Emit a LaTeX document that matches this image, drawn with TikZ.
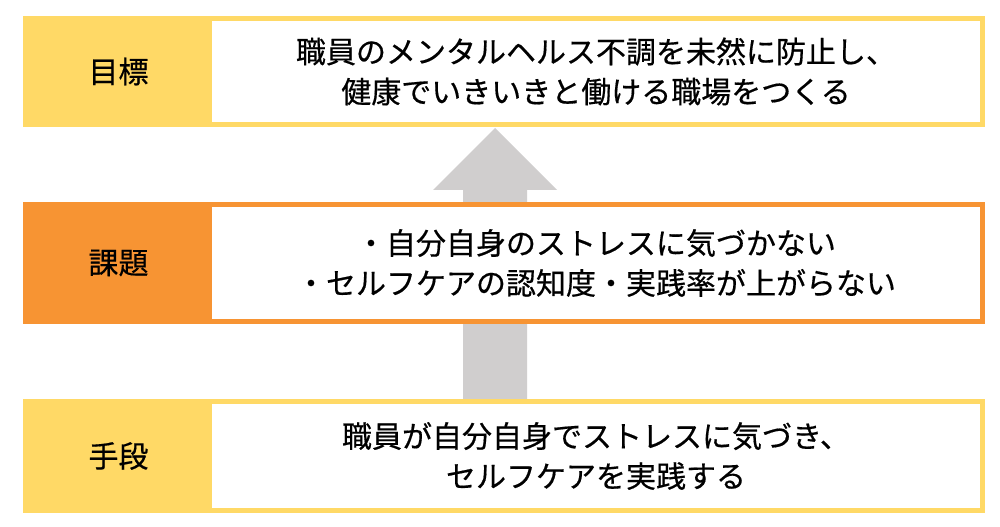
\documentclass[tikz,border=0pt]{standalone}
\usepackage{fontspec}
\newfontfamily\jp[FakeBold=0.5]{Noto Sans CJK JP}
\usetikzlibrary{calc}
\definecolor{ylw}{HTML}{FFD966}
\definecolor{org}{HTML}{F79433}
\definecolor{arrgray}{HTML}{D0CECE}
\begin{document}
\begin{tikzpicture}[x=0.75pt,y=-0.75pt,
  txt/.style={font=\jp\fontsize{22.5}{30}\selectfont, text=black, align=center},
  labelbox/.style={txt, rectangle, inner sep=0pt, minimum width=143.25pt},
  contentbox/.style={txt, rectangle, inner sep=0pt, minimum width=579.75pt, fill=white, line width=3.75pt},
  uparrow/.style={fill=arrgray}]
\fill[white] (0,0) rectangle (1000,527);
\useasboundingbox (0,0) rectangle (1000,527);
% arrow (behind boxes)
\coordinate (arrB) at (495,399);
\coordinate (arrT) at (495,128);
\fill[uparrow] ($(arrB)+(-32,0)$) -- ($(arrT)+(-32,62)$) -- ($(arrT)+(-62,62)$) -- (arrT)
  -- ($(arrT)+(62,62)$) -- ($(arrT)+(32,62)$) -- ($(arrB)+(32,0)$) -- cycle;
% goal row
\node[labelbox, fill=ylw, minimum height=83.25pt] (goalL) at (118.5,71.5) {目標};
\node[contentbox, draw=ylw, minimum height=79.5pt] (goal) at (596,71.5)
  {職員のメンタルヘルス不調を未然に防止し、\\健康でいきいきと働ける職場をつくる};
% issue row
\node[labelbox, fill=org, minimum height=91.5pt] (issueL) at (118.5,263) {課題};
\node[contentbox, draw=org, minimum height=87.75pt] (issue) at (596,263)
  {・自分自身のストレスに気づかない\\・セルフケアの認知度・実践率が上がらない};
% means row
\node[labelbox, fill=ylw, minimum height=85.5pt] (meansL) at (118.5,456) {手段};
\node[contentbox, draw=ylw, minimum height=81.75pt] (means) at (596,456)
  {職員が自分自身でストレスに気づき、\\セルフケアを実践する};
\end{tikzpicture}
\end{document}
